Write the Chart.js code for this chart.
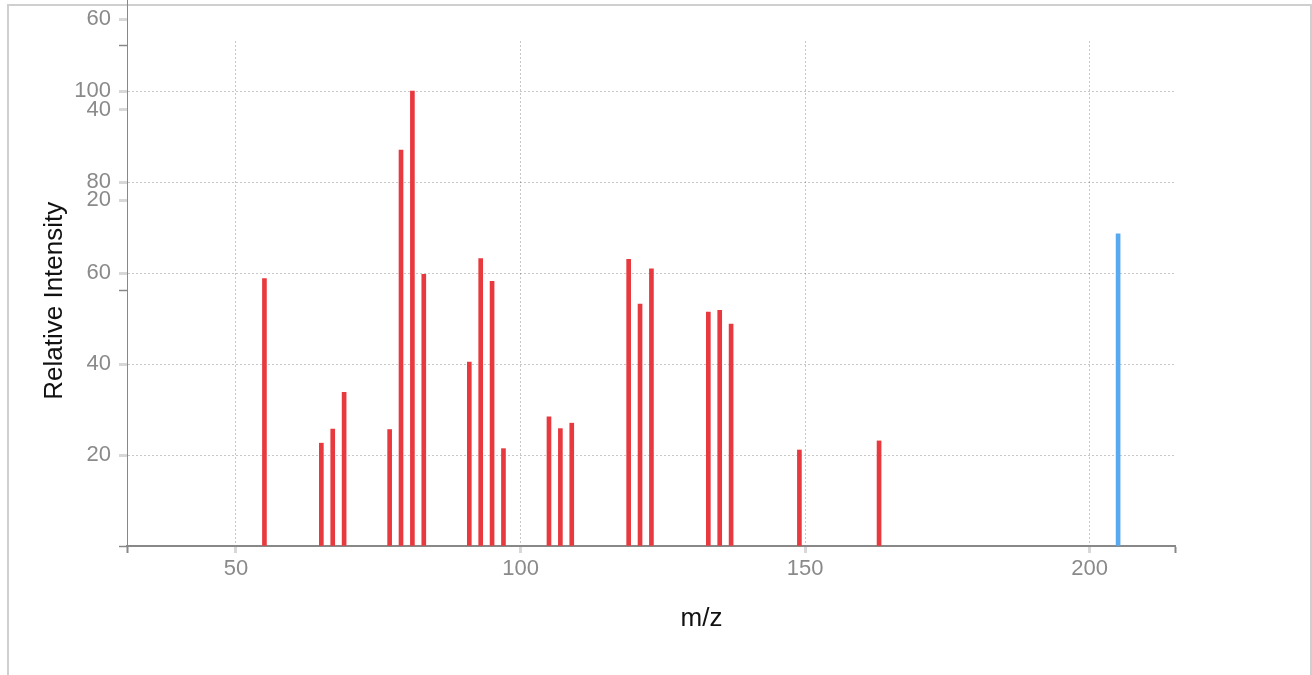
<!DOCTYPE html>
<html>
<head>
<meta charset="utf-8">
<script src="https://cdn.jsdelivr.net/npm/chart.js@4.4.1/dist/chart.umd.min.js"></script>
<style>
  html, body { margin: 0; padding: 0; background: #fff; overflow: hidden; }
  #frame { position: absolute; left: 7px; top: 4px; width: 1301px; height: 700px; border: 2px solid #cfcfcf; }
  #chart { position: absolute; left: 0; top: 0; }
</style>
</head>
<body>
<div id="frame"></div>
<canvas id="chart" width="1312" height="675"></canvas>
<script>
// fragment peaks (red) and precursor (blue)
const mzFragments = [55, 65, 67, 69, 77, 79, 81, 83, 91, 93, 95, 97, 105, 107, 109, 119, 121, 123, 133, 135, 137, 149, 163];
const intFragments = [58.8, 22.6, 25.7, 33.8, 25.6, 87.0, 100, 59.7, 40.4, 63.2, 58.2, 21.4, 28.4, 25.8, 27.0, 63.0, 53.2, 60.9, 51.4, 51.8, 48.8, 21.1, 23.1];
const mzPrecursor = [205];
const intPrecursor = [68.6];

const xTickValues = [50, 100, 150, 200];
const yTickValues = [20, 40, 60, 80, 100];
const y2TickValues = [20, 40, 60];

const X_MIN = 30.85, X_MAX = 215;
const Y_MAX = 111, Y_END = 110;
const Y2_MIN = -56.3, Y2_MAX = 64.2;

const AXIS = '#888';
const TICK_LIGHT = '#d8d8d8';
const GRID = 'rgba(0,0,0,0.22)';
const LABEL = '#8a8a8a';
const FONT = "'Liberation Sans', Arial, sans-serif";

function toPoints(xs, ys) {
    return xs.map((x, i) => ({ x: x, y: ys[i] }));
}

function tickVal(c) {
    return c.tick ? c.tick.value : null;
}

// second y axis shares the line but runs up to the top of the canvas
const y2Span = {
    id: 'y2Span',
    afterLayout(chart) {
        const s = chart.scales.y2;
        s.top = 0;
        s.height = s.bottom - s.top;
        s.left = chart.scales.y.left; // so its labels are not clipped away
        s.width = s.right - s.left;
        s.configure();
    }
};

const ctx = document.getElementById('chart').getContext('2d');
new Chart(ctx, {
    type: 'bar',
    data: {
        datasets: [
            { data: toPoints(mzFragments, intFragments), backgroundColor: '#e8393e' },
            { data: toPoints(mzPrecursor, intPrecursor), backgroundColor: '#58aaf0' }
        ]
    },
    options: {
        responsive: false,
        devicePixelRatio: 1,
        animation: false,
        grouped: false,
        maxBarThickness: 4,
        barPercentage: 1,
        categoryPercentage: 1,
        borderWidth: 0,
        layout: { autoPadding: false, padding: { left: 0, right: 137, top: 41, bottom: 0 } },
        plugins: { legend: { display: false }, tooltip: { enabled: false } },
        scales: {
            x: {
                type: 'linear', min: X_MIN, max: X_MAX, offset: false,
                afterBuildTicks: s => { s.ticks = [X_MIN, ...xTickValues, X_MAX].map(v => ({ value: v })); },
                afterFit: s => { s.height = 129; },
                grid: {
                    offset: false,
                    color: c => (tickVal(c) === X_MIN || tickVal(c) === X_MAX) ? 'rgba(0,0,0,0)' : GRID,
                    tickColor: c => (tickVal(c) === X_MIN || tickVal(c) === X_MAX) ? AXIS : TICK_LIGHT,
                    tickWidth: c => (tickVal(c) === X_MIN || tickVal(c) === X_MAX) ? 2 : 3,
                    tickLength: 7
                },
                border: { color: AXIS, width: 2, dash: [2, 2] },
                ticks: {
                    autoSkip: false, maxRotation: 0, padding: 3, color: LABEL,
                    font: { family: FONT, size: 22 },
                    callback: v => xTickValues.includes(v) ? String(v) : ''
                },
                title: {
                    display: true, text: '              m/z', color: '#111',
                    font: { family: FONT, size: 26 }, padding: { top: 0, bottom: 41 }
                }
            },
            y: {
                type: 'linear', position: 'left', weight: 1, min: 0, max: Y_MAX, z: 1,
                afterBuildTicks: s => { s.ticks = [0, ...yTickValues, Y_END].map(v => ({ value: v })); },
                afterFit: s => { s.width = 127; },
                grid: {
                    color: c => tickVal(c) === Y_END ? 'rgba(0,0,0,0)' : GRID,
                    tickColor: c => (tickVal(c) === 0 || tickVal(c) === Y_END) ? AXIS : TICK_LIGHT,
                    tickWidth: c => (tickVal(c) === 0 || tickVal(c) === Y_END) ? 1.5 : 3,
                    tickLength: 8
                },
                border: { color: AXIS, width: 1, dash: [2, 2] },
                ticks: {
                    padding: 8, color: LABEL, font: { family: FONT, size: 22 },
                    callback: v => yTickValues.includes(v) ? String(v) : ''
                },
                title: {
                    display: true, text: 'Relative Intensity  ', color: '#111',
                    font: { family: FONT, size: 26 }, padding: { top: 39, bottom: 0 }
                }
            },
            y2: {
                type: 'linear', position: 'left', weight: 0, min: Y2_MIN, max: Y2_MAX,
                afterBuildTicks: s => { s.ticks = [0, ...y2TickValues].map(v => ({ value: v })); },
                afterFit: s => { s.width = 0; },
                grid: {
                    drawOnChartArea: false,
                    tickColor: c => tickVal(c) === 0 ? AXIS : TICK_LIGHT,
                    tickWidth: c => tickVal(c) === 0 ? 1.5 : 3,
                    tickLength: 8
                },
                border: { color: AXIS, width: 1 },
                ticks: {
                    padding: 8, color: LABEL, font: { family: FONT, size: 22 },
                    callback: v => y2TickValues.includes(v) ? String(v) : ''
                }
            }
        }
    },
    plugins: [y2Span]
});
</script>
</body>
</html>
